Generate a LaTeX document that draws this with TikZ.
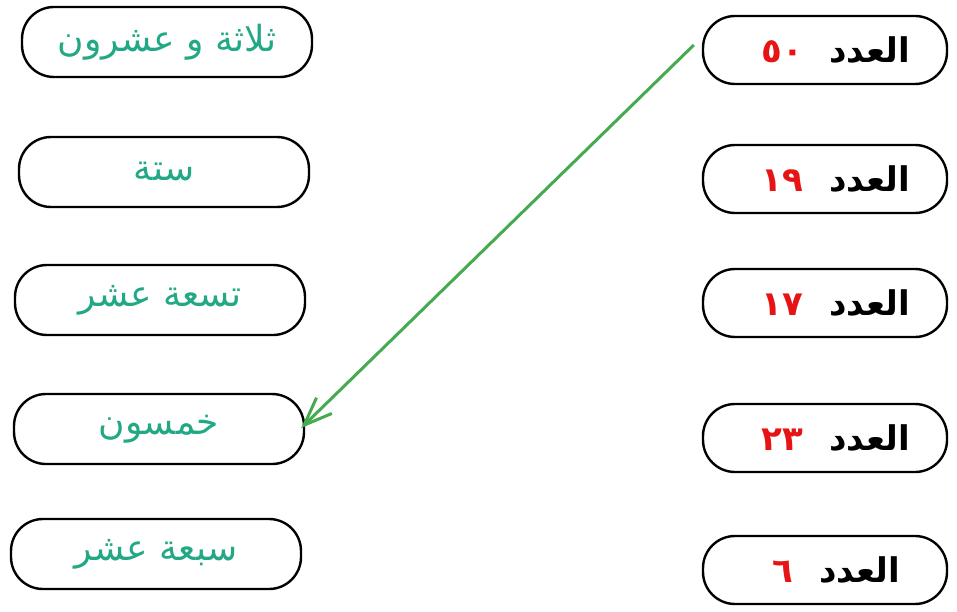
\documentclass[tikz,border=0pt]{standalone}
\usepackage{fontspec}
\usetikzlibrary{arrows.meta}
\newfontfamily\arabicfont[Script=Arabic]{DejaVu Sans}
\TeXXeTstate=1
\definecolor{wordgreen}{RGB}{34,168,132}
\definecolor{numred}{RGB}{230,20,20}
\definecolor{arrowgreen}{RGB}{70,170,80}
\tikzset{
  leftbox/.style={draw=black, line width=2.4pt, rounded corners=32pt,
    minimum width=290pt, minimum height=70pt, inner sep=0pt,
    text=wordgreen, font=\arabicfont\fontsize{36}{40}\selectfont},
  rightbox/.style={draw=black, line width=2.4pt, rounded corners=32pt,
    minimum width=244pt, minimum height=68pt, inner sep=0pt,
    font=\arabicfont\bfseries\fontsize{34}{38}\selectfont},
  matcharrow/.style={draw=arrowgreen, line width=3pt,
    -{Straight Barb[length=28pt,width=22pt,line width=3pt]}}
}
\newcommand{\numlabel}[1]{\hspace{22pt}\textcolor{numred}{#1}\hspace{26pt}{\beginR العدد\endR}}
\begin{document}
\begin{tikzpicture}[x=1pt,y=-1pt]
\useasboundingbox (0,0) rectangle (957,612);
% left column
\node[leftbox] (l1) at (167,42) {\beginR ثلاثة و عشرون\endR};
\node[leftbox] (l2) at (164,172) {\beginR ستة\endR};
\node[leftbox] (l3) at (160,300) {\beginR تسعة عشر\endR};
\node[leftbox] (l4) at (159,429) {\beginR خمسون\endR};
\node[leftbox] (l5) at (156,554) {\beginR سبعة عشر\endR};
% right column
\node[rightbox] (r1) at (825,50) {\numlabel{٥٠}};
\node[rightbox] (r2) at (825,179) {\numlabel{١٩}};
\node[rightbox] (r3) at (825,303) {\numlabel{١٧}};
\node[rightbox] (r4) at (825,438) {\numlabel{٢٣}};
\node[rightbox] (r5) at (825,570) {\numlabel{٦}};
% connector
\draw[matcharrow] ([xshift=-8pt,yshift=5pt]r1.west) -- ([xshift=-4pt,yshift=1pt]l4.east);
\end{tikzpicture}
\end{document}
